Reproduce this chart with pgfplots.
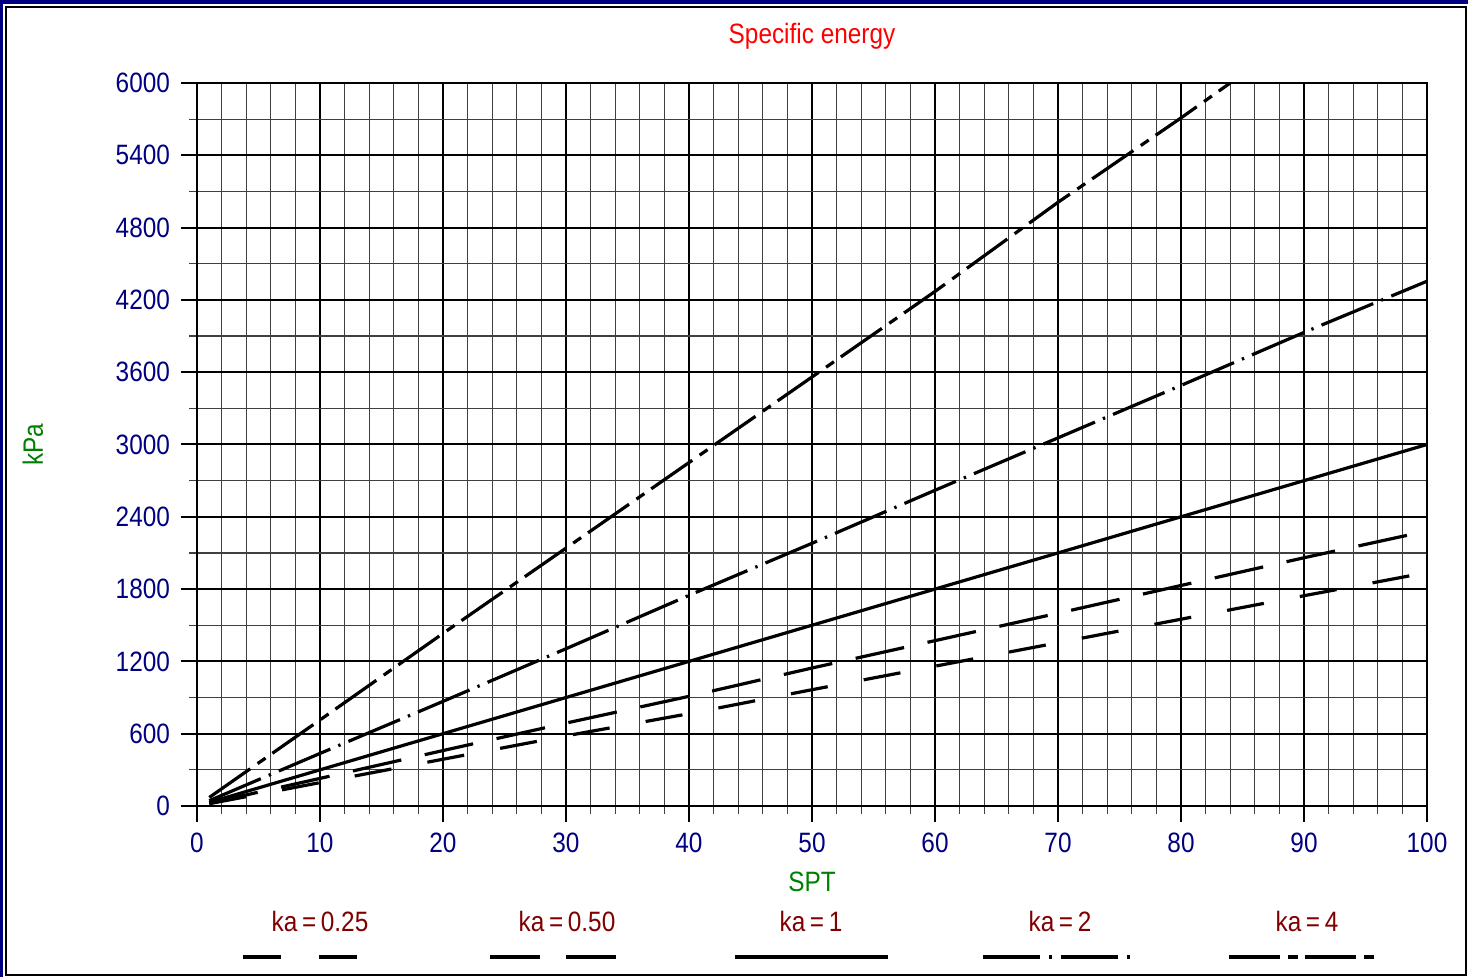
\documentclass[border=0pt]{standalone}
\usepackage{fontspec}
\setmainfont{Liberation Sans}[FakeStretch=0.87]
\usepackage{pgfplots}
\pgfplotsset{compat=1.18}
\definecolor{navy}{RGB}{0,0,128}
\definecolor{dgreen}{RGB}{0,128,0}
\definecolor{dred}{RGB}{128,0,0}
\newcommand\fs{\fontsize{14}{16}\selectfont}
\begin{document}
\begin{tikzpicture}
\useasboundingbox (-98.5pt,-85.5pt) rectangle (635.5pt,403pt);
\fill[navy] (-98.5pt,401pt) rectangle (635.5pt,403pt);
\fill[navy] (-98.5pt,-85.5pt) rectangle (-97pt,403pt);
\draw[line width=1pt] (-95.25pt,-84.75pt) rectangle (634.25pt,399.25pt);
\begin{axis}[at={(0pt,0pt)}, anchor=south west, scale only axis,
  width=615pt, height=361.5pt,
  xmin=0, xmax=100, ymin=0, ymax=6000,
  xtick={0,10,...,100}, ytick={0,600,...,6000},
  minor x tick num=4, minor y tick num=1,
  grid=both,
  major grid style={black, line width=1pt},
  minor grid style={black!75, line width=0.6pt},
  axis line style={line width=1.2pt},
  tick align=outside, tick pos=left,
  major tick length=8pt, minor tick length=4pt,
  major tick style={black, line width=1pt},
  minor tick style={black!75, line width=0.6pt},
  ticklabel style={font=\fs, text=navy},
  xticklabel style={yshift=-2pt},
  yticklabel style={xshift=-2pt},
  /pgf/number format/assume math mode=true,
  /pgf/number format/1000 sep={},
  scaled y ticks=false,
  clip=true,
]
\addplot[black, line width=1.6pt, mark=none, dash pattern=on 18.7pt off 18.3pt] coordinates {
(1,19) (10,194) (20,388) (30,582) (40,766) (50,965) (60,1160) (70,1355) (80,1550) (90,1745) (100,1937)};
\addplot[black, line width=1.6pt, mark=none, dash pattern=on 24.8pt off 12pt] coordinates {
(1,23) (10,229) (20,460) (30,688) (40,910) (50,1145) (60,1372) (70,1600) (80,1830) (90,2060) (100,2282)};
\addplot[black, line width=1.6pt, mark=none] coordinates {
(1,30) (10,300) (20,600) (30,900) (40,1200) (50,1500) (60,1800) (70,2100) (80,2400) (90,2700) (100,3000)};
\addplot[black, line width=1.6pt, mark=none, dash pattern=on 28pt off 4.3pt on 1.2pt off 4.3pt] coordinates {
(1,44) (10,436) (20,868) (30,1305) (40,1748) (50,2180) (60,2620) (70,3055) (80,3490) (90,3930) (100,4355)};
\addplot[black, line width=1.6pt, mark=none, dash pattern=on 25pt off 4.5pt on 4.8pt off 4.2pt] coordinates {
(1,71) (10,714) (20,1432) (30,2140) (40,2850) (50,3560) (60,4270) (70,5010) (80,5710) (84,6000)};
\end{axis}
\node[text=red, font=\fs, anchor=base] at (307.5pt,381pt) {Specific energy};
\node[text=dgreen, font=\fs, anchor=base] at (307.5pt,-43pt) {SPT};
\node[text=dgreen, font=\fs, rotate=90, anchor=base] at (-77pt,180.75pt) {kPa};
\node[text=dred, font=\fs, anchor=base] at (61.5pt,-63pt) {ka\,=\,0.25};
\node[text=dred, font=\fs, anchor=base] at (185pt,-63pt) {ka\,=\,0.50};
\node[text=dred, font=\fs, anchor=base] at (307pt,-63pt) {ka\,=\,1};
\node[text=dred, font=\fs, anchor=base] at (431.5pt,-63pt) {ka\,=\,2};
\node[text=dred, font=\fs, anchor=base] at (555pt,-63pt) {ka\,=\,4};
\draw[line width=1.6pt, dash pattern=on 19pt off 19pt] (23pt,-75.5pt) -- (80pt,-75.5pt);
\draw[line width=1.6pt, dash pattern=on 25pt off 13pt] (146.5pt,-75.5pt) -- (209.5pt,-75.5pt);
\draw[line width=1.6pt] (269pt,-75.5pt) -- (345.5pt,-75.5pt);
\draw[line width=1.6pt, dash pattern=on 28.5pt off 4.5pt on 1.5pt off 4.3pt] (393pt,-75.5pt) -- (466.5pt,-75.5pt);
\draw[line width=1.6pt, dash pattern=on 25.5pt off 4pt on 5pt off 3.5pt] (516pt,-75.5pt) -- (588.5pt,-75.5pt);
\end{tikzpicture}
\end{document}
